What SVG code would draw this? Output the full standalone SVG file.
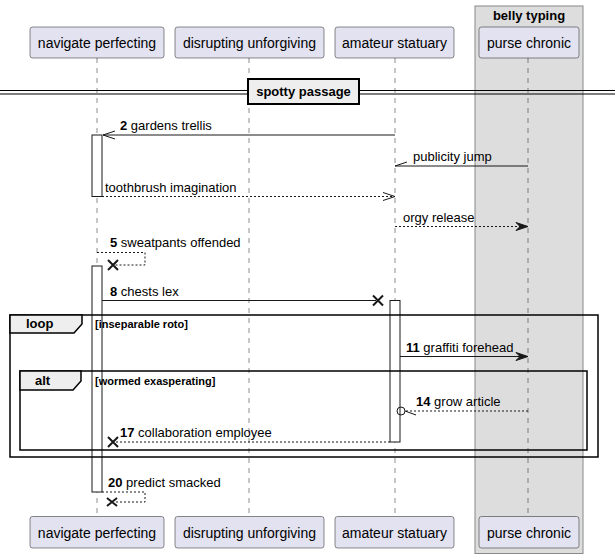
<svg xmlns="http://www.w3.org/2000/svg" width="615" height="558" viewBox="0 0 615 558">
<style>
text{font-family:"Liberation Sans",Arial,sans-serif;fill:#000}
.p rect{fill:#E2E2F0;stroke:#181818;stroke-width:0.5}
.p text{font-size:14px;text-anchor:middle}
.life{stroke:#181818;stroke-width:0.5;stroke-dasharray:5,5;fill:none}
.act{fill:#fff;stroke:#181818;stroke-width:1}
.msg{font-size:13px}
.b{font-weight:bold}
.s{stroke:#181818;stroke-width:1;fill:none}
.d{stroke:#181818;stroke-width:1;fill:none;stroke-dasharray:2,2}
.fa{fill:#181818;stroke:#181818;stroke-width:1}
.x{stroke:#181818;stroke-width:2;fill:none}
.frame{fill:none;stroke:#000;stroke-width:1.5}
.tab{fill:#EEEEEE;stroke:#000;stroke-width:1.5}
.ft{font-size:13px;font-weight:bold}
.cond{font-size:11px;font-weight:bold}
</style>

<g id="box-belly-typing">
<rect x="475" y="6" width="108" height="547.5" fill="#DDDDDD" stroke="#888888" stroke-width="1"/>
<text x="529" y="20" font-size="13" font-weight="bold" text-anchor="middle">belly typing</text>
</g>

<g id="lifelines">
<line class="life" x1="97" y1="58" x2="97" y2="516"/>
<line class="life" x1="249" y1="58" x2="249" y2="516"/>
<line class="life" x1="395" y1="58" x2="395" y2="516"/>
<line class="life" x1="528" y1="58" x2="528" y2="516"/>
</g>

<g id="divider-spotty-passage">
<line x1="0" y1="90.5" x2="615" y2="90.5" stroke="#000" stroke-width="1"/>
<line x1="0" y1="94" x2="615" y2="94" stroke="#000" stroke-width="1"/>
<rect x="248" y="79" width="111" height="25" fill="#EEEEEE" stroke="#000" stroke-width="2"/>
<text x="303.5" y="96" font-size="13" font-weight="bold" text-anchor="middle">spotty passage</text>
</g>

<g id="activations">
<rect class="act" x="92" y="135" width="10" height="61.5"/>
<rect class="act" x="92" y="266" width="10" height="226"/>
<rect class="act" x="390" y="300.5" width="10" height="141.5"/>
</g>

<g id="frame-loop">
<rect class="frame" x="10" y="315" width="588" height="142"/>
<path class="tab" d="M10,315 H82 V324 L74,333 H10 Z"/>
<text class="ft" x="26" y="328">loop</text>
<text class="cond" x="95" y="328">[inseparable roto]</text>
</g>

<g id="frame-alt">
<rect class="frame" x="20" y="371" width="567" height="79"/>
<path class="tab" d="M20,371 H81 V381 L73,390 H20 Z"/>
<text class="ft" x="35" y="385">alt</text>
<text class="cond" x="95" y="385">[wormed exasperating]</text>
</g>

<g id="participant-navigate-perfecting" class="p">
<rect x="30" y="27" width="134" height="31" rx="2.5"/>
<text x="97" y="48">navigate perfecting</text>
<rect x="30" y="516.5" width="134" height="31.5" rx="2.5"/>
<text x="97" y="537.5">navigate perfecting</text>
</g>
<g id="participant-disrupting-unforgiving" class="p">
<rect x="175" y="27" width="149" height="31" rx="2.5"/>
<text x="249.5" y="48">disrupting unforgiving</text>
<rect x="175" y="516.5" width="149" height="31.5" rx="2.5"/>
<text x="249.5" y="537.5">disrupting unforgiving</text>
</g>
<g id="participant-amateur-statuary" class="p">
<rect x="335" y="27" width="119" height="31" rx="2.5"/>
<text x="394.5" y="48">amateur statuary</text>
<rect x="335" y="516.5" width="119" height="31.5" rx="2.5"/>
<text x="394.5" y="537.5">amateur statuary</text>
</g>
<g id="participant-purse-chronic" class="p">
<rect x="479" y="27" width="100" height="31" rx="2.5"/>
<text x="529" y="48">purse chronic</text>
<rect x="479" y="516.5" width="100" height="31.5" rx="2.5"/>
<text x="529" y="537.5">purse chronic</text>
</g>

<g id="connectors">
<!-- 2 gardens trellis -->
<line class="s" x1="395" y1="135" x2="103" y2="135"/>
<polyline class="s" points="115,131 103,135 115,139"/>
<text class="msg" x="120" y="130"><tspan class="b">2</tspan> gardens trellis</text>

<!-- publicity jump -->
<line class="s" x1="528" y1="166" x2="395" y2="166"/>
<line class="s" x1="395" y1="166" x2="407" y2="162"/>
<text class="msg" x="413" y="161">publicity jump</text>

<!-- toothbrush imagination -->
<line class="d" x1="102" y1="196.5" x2="394" y2="196.5"/>
<polyline class="s" points="383,192.5 395,196.5 383,200.5"/>
<text class="msg" x="105" y="192">toothbrush imagination</text>

<!-- orgy release -->
<line class="d" x1="395" y1="226.5" x2="522" y2="226.5"/>
<polygon class="fa" points="528,226.5 516,222.5 520,226.5 516,230.5"/>
<text class="msg" x="403" y="221.5">orgy release</text>

<!-- 5 sweatpants offended -->
<polyline class="d" points="97,252.5 145,252.5 145,265 114,265"/>
<path class="x" d="M108,260 L118,270 M118,260 L108,270"/>
<text class="msg" x="110" y="247"><tspan class="b">5</tspan> sweatpants offended</text>

<!-- 8 chests lex -->
<line class="s" x1="102" y1="300.5" x2="376" y2="300.5"/>
<path class="x" d="M373,295.5 L383,305.5 M383,295.5 L373,305.5"/>
<text class="msg" x="110" y="296"><tspan class="b">8</tspan> chests lex</text>

<!-- 11 graffiti forehead -->
<line class="s" x1="400" y1="356.5" x2="522" y2="356.5"/>
<polygon class="fa" points="528,356.5 516,352.5 520,356.5 516,360.5"/>
<text class="msg" x="406" y="351.5"><tspan class="b">11</tspan> graffiti forehead</text>

<!-- 14 grow article -->
<line class="d" x1="528" y1="411" x2="405" y2="411"/>
<circle cx="401" cy="411" r="4" fill="none" stroke="#181818" stroke-width="1"/>
<line class="s" x1="405" y1="411" x2="416" y2="415"/>
<text class="msg" x="416" y="406"><tspan class="b">14</tspan> grow article</text>

<!-- 17 collaboration employee -->
<line class="d" x1="390" y1="442" x2="116" y2="442"/>
<path class="x" d="M108,437 L118,447 M118,437 L108,447"/>
<text class="msg" x="120" y="437"><tspan class="b">17</tspan> collaboration employee</text>

<!-- 20 predict smacked -->
<polyline class="d" points="102,492 145,492 145,502 115,502"/>
<path class="x" d="M107,498 L117,506 M117,498 L107,506"/>
<text class="msg" x="108" y="487"><tspan class="b">20</tspan> predict smacked</text>
</g>
</svg>
